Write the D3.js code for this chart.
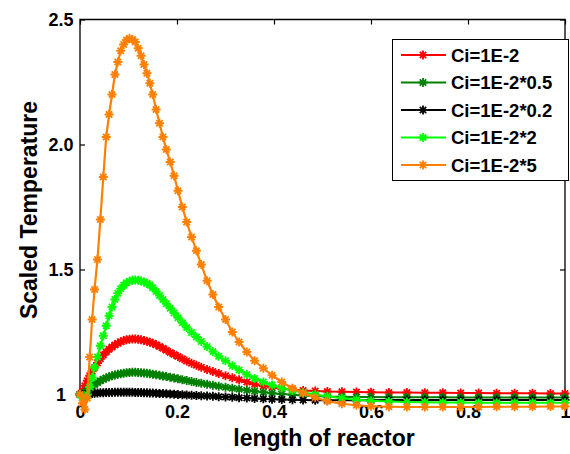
<!DOCTYPE html>
<html>
<head>
<meta charset="utf-8">
<script src="https://cdn.jsdelivr.net/npm/d3@7"></script>
<style>
  body { margin: 0; background: #fff; }
  svg { display: block; }
  text { font-family: "Liberation Sans", Arial, Helvetica, sans-serif; font-weight: bold; fill: #000; }
</style>
</head>
<body>
<svg id="chart" width="570" height="454"></svg>
<script>
// Position along the reactor (solver output points)
const lengthPts = [
  0, 0.005, 0.01, 0.015, 0.02, 0.025, 0.03, 0.036, 0.042, 0.048,
  0.054, 0.06, 0.066, 0.072, 0.078, 0.084, 0.09, 0.096, 0.102, 0.108,
  0.114, 0.12, 0.126, 0.132, 0.138, 0.144, 0.15, 0.157, 0.164, 0.171,
  0.178, 0.186, 0.194, 0.202, 0.211, 0.22, 0.23, 0.24, 0.25, 0.262,
  0.274, 0.286, 0.3, 0.314, 0.328, 0.344, 0.36, 0.378, 0.396, 0.416,
  0.438, 0.46, 0.485, 0.51, 0.54, 0.57,
  0.6, 0.637, 0.674, 0.711, 0.748, 0.785, 0.822, 0.859, 0.896, 0.933, 0.97, 1.0
];

// Scaled temperature for each inlet concentration
const tempCi = [
  1.0, 1.015, 1.035, 1.055, 1.075, 1.093, 1.108, 1.126, 1.143, 1.158,
  1.17, 1.181, 1.19, 1.198, 1.205, 1.211, 1.216, 1.219, 1.221, 1.222,
  1.222, 1.221, 1.219, 1.216, 1.213, 1.209, 1.205, 1.199, 1.192, 1.185,
  1.177, 1.168, 1.16, 1.152, 1.143, 1.134, 1.125, 1.117, 1.109, 1.1,
  1.092, 1.084, 1.075, 1.067, 1.059, 1.05, 1.041, 1.034, 1.028, 1.023,
  1.019, 1.016, 1.014, 1.012, 1.011, 1.01,
  1.009, 1.008, 1.008, 1.007, 1.007, 1.006, 1.006, 1.005, 1.005, 1.005, 1.004, 1.004
];
const tempCiHalf = [
  1.0, 1.002, 1.008, 1.016, 1.024, 1.032, 1.04, 1.048, 1.055, 1.061,
  1.066, 1.071, 1.075, 1.078, 1.081, 1.083, 1.085, 1.087, 1.088, 1.089,
  1.089, 1.088, 1.087, 1.086, 1.085, 1.083, 1.081, 1.079, 1.077, 1.074,
  1.072, 1.069, 1.066, 1.063, 1.059, 1.056, 1.052, 1.048, 1.045, 1.041,
  1.037, 1.033, 1.029, 1.025, 1.021, 1.017, 1.013, 1.009, 1.005, 1.002,
  0.999, 0.996, 0.994, 0.992, 0.991, 0.99,
  0.99, 0.989, 0.989, 0.989, 0.989, 0.988, 0.988, 0.988, 0.988, 0.988, 0.988, 0.988
];
const tempCiFifth = [
  1.0, 0.999, 1.0, 1.002, 1.003, 1.004, 1.005, 1.006, 1.007, 1.007,
  1.008, 1.008, 1.008, 1.009, 1.009, 1.009, 1.009, 1.009, 1.009, 1.009,
  1.008, 1.008, 1.008, 1.007, 1.007, 1.006, 1.006, 1.005, 1.004, 1.004,
  1.003, 1.002, 1.001, 1.0, 0.999, 0.998, 0.997, 0.996, 0.995, 0.994,
  0.993, 0.991, 0.99, 0.989, 0.987, 0.986, 0.984, 0.983, 0.981, 0.98,
  0.979, 0.978, 0.977, 0.977, 0.977, 0.977,
  0.977, 0.978, 0.978, 0.978, 0.978, 0.978, 0.978, 0.978, 0.978, 0.978, 0.978, 0.978
];
const tempCiDouble = [
  1.0, 0.988, 0.982, 1.0, 1.03, 1.068, 1.108, 1.15, 1.195, 1.235,
  1.275, 1.315, 1.35, 1.38, 1.405, 1.423, 1.437, 1.447, 1.453, 1.457,
  1.458, 1.457, 1.454, 1.45, 1.445, 1.438, 1.427, 1.412, 1.396, 1.38,
  1.363, 1.345, 1.326, 1.307, 1.287, 1.268, 1.248, 1.23, 1.212, 1.192,
  1.172, 1.153, 1.135, 1.115, 1.098, 1.08, 1.064, 1.05, 1.038, 1.026,
  1.016, 1.008, 1.0, 0.993, 0.985, 0.979,
  0.975, 0.972, 0.97, 0.969, 0.968, 0.968, 0.967, 0.967, 0.967, 0.967, 0.967, 0.967
];
const tempCiFive = [
  1.0, 0.965, 0.94, 0.985, 1.15, 1.3, 1.42, 1.54, 1.7, 1.87,
  2.03, 2.12, 2.2, 2.28, 2.33, 2.375, 2.4, 2.418, 2.425, 2.42,
  2.41, 2.385, 2.355, 2.32, 2.285, 2.245, 2.2, 2.14, 2.085, 2.03,
  1.98, 1.93, 1.875, 1.815, 1.75, 1.69, 1.63, 1.575, 1.52, 1.455,
  1.4, 1.35, 1.3, 1.25, 1.21, 1.17, 1.135, 1.105, 1.077, 1.05,
  1.025, 1.005, 0.988, 0.973, 0.963, 0.957,
  0.953, 0.951, 0.95, 0.95, 0.95, 0.95, 0.95, 0.951, 0.951, 0.951, 0.952, 0.952
];

const seriesNames = ["Ci=1E-2", "Ci=1E-2*0.5", "Ci=1E-2*0.2", "Ci=1E-2*2", "Ci=1E-2*5"];
const seriesColors = ["#ff0000", "#008000", "#000000", "#00ff00", "#ff8000"];
const seriesValues = [tempCi, tempCiHalf, tempCiFifth, tempCiDouble, tempCiFive];

const xTickValues = [0, 0.2, 0.4, 0.6, 0.8, 1];
const xTickLabels = ["0", "0.2", "0.4", "0.6", "0.8", "1"];
const yTickValues = [1, 1.5, 2, 2.5];
const yTickLabels = ["1", "1.5", "2.0", "2.5"];

const svg = d3.select("#chart");

const plotLeft = 80, plotRight = 565, plotTop = 19.5, frameBottom = 398;
const x = d3.scaleLinear().domain([0, 1]).range([plotLeft, plotRight]);
const y = d3.scaleLinear().domain([1, 2.5]).range([394.5, plotTop]);

// ---- axes frame and ticks ----
const axisG = svg.append("g");

axisG.append("path")
  .attr("d", `M${plotLeft},${frameBottom}V${plotTop}H${plotRight}V${frameBottom}`)
  .attr("fill", "none").attr("stroke", "#000").attr("stroke-width", 1.3);

// ticks on the top edge pointing inward
axisG.append("g").attr("transform", `translate(0,${plotTop})`)
  .call(d3.axisTop(x).tickValues(xTickValues).tickSize(-5).tickFormat(""))
  .call(g => g.select(".domain").remove())
  .selectAll("line").attr("stroke-width", 1.2);

// x tick labels
axisG.append("g").attr("transform", "translate(0,402)")
  .call(d3.axisBottom(x).tickValues(xTickValues).tickSize(0).tickPadding(3)
    .tickFormat((d, i) => xTickLabels[i]))
  .call(g => g.select(".domain").remove())
  .selectAll("text").attr("font-size", 18).attr("fill", "#000");

// left ticks with labels (labels centred in the margin column)
axisG.append("g").attr("transform", `translate(${plotLeft},0)`)
  .call(d3.axisLeft(y).tickValues(yTickValues).tickSize(-5).tickPadding(6)
    .tickFormat((d, i) => yTickLabels[i]))
  .call(g => g.select(".domain").remove())
  .call(g => g.selectAll("line").attr("stroke-width", 1.2))
  .selectAll("text")
    .attr("font-size", 18).attr("fill", "#000")
    .attr("text-anchor", "middle").attr("x", -19);

// right ticks
axisG.append("g").attr("transform", `translate(${plotRight},0)`)
  .call(d3.axisRight(y).tickValues(yTickValues).tickSize(-5).tickFormat(""))
  .call(g => g.select(".domain").remove())
  .selectAll("line").attr("stroke-width", 1.2);

// axis titles
svg.append("text")
  .attr("x", 324).attr("y", 446)
  .attr("text-anchor", "middle").attr("font-size", 23)
  .text("length of reactor");

svg.append("text")
  .attr("transform", "translate(37,210) rotate(-90)")
  .attr("text-anchor", "middle").attr("font-size", 23)
  .text("Scaled Temperature");

// ---- series: line + star markers ----
const starPath = "M-4.5,0H4.5M0,-4.5V4.5M-3.2,-3.2L3.2,3.2M-3.2,3.2L3.2,-3.2";
const line = d3.line().x(d => x(d[0])).y(d => y(d[1]));

seriesValues.forEach((vals, si) => {
  const pts = lengthPts.map((lx, i) => [lx, vals[i]]);
  const g = svg.append("g");
  g.append("path")
    .datum(pts)
    .attr("d", line)
    .attr("fill", "none")
    .attr("stroke", seriesColors[si])
    .attr("stroke-width", 2.2)
    .attr("stroke-linejoin", "round");
  g.selectAll("path.mark")
    .data(pts)
    .join("path")
    .attr("class", "mark")
    .attr("d", starPath)
    .attr("transform", d => `translate(${x(d[0])},${y(d[1])})`)
    .attr("fill", "none")
    .attr("stroke", seriesColors[si])
    .attr("stroke-width", 1.8);
});

// ---- legend ----
const legend = svg.append("g");
legend.append("rect")
  .attr("x", 392.5).attr("y", 39.5).attr("width", 176).attr("height", 141)
  .attr("fill", "#fff").attr("stroke", "#000").attr("stroke-width", 1);

const rowY = d3.scalePoint().domain(seriesNames).range([55, 165]);
seriesNames.forEach((name, i) => {
  const cy = rowY(name);
  legend.append("line")
    .attr("x1", 401).attr("x2", 446).attr("y1", cy).attr("y2", cy)
    .attr("stroke", seriesColors[i]).attr("stroke-width", 2.2);
  legend.append("path")
    .attr("d", starPath)
    .attr("transform", `translate(423,${cy})`)
    .attr("fill", "none").attr("stroke", seriesColors[i]).attr("stroke-width", 1.8);
  legend.append("text")
    .attr("x", 451).attr("y", cy).attr("dy", "0.36em")
    .attr("font-size", 18.5)
    .text(name);
});
</script>
</body>
</html>
